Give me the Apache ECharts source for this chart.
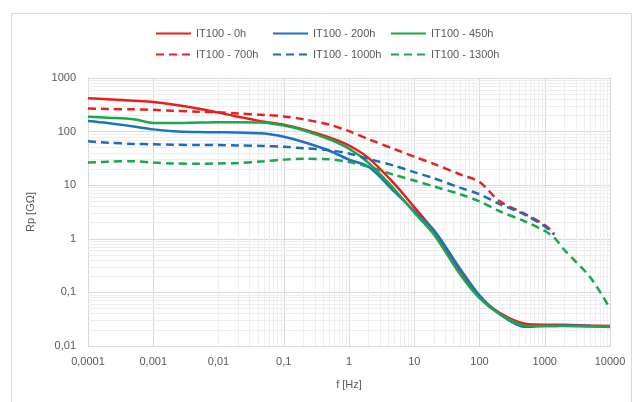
<!DOCTYPE html>
<html>
<head>
<meta charset="utf-8">
<script src="https://cdn.jsdelivr.net/npm/echarts@6/dist/echarts.min.js"></script>
<style>
  html, body { margin: 0; padding: 0; background: #ffffff; }
  #chart { width: 637px; height: 402px; }
</style>
</head>
<body>
<div id="chart"></div>
<script>
// Frequency sweep [Hz]
const freq = [0.0001, 0.0002, 0.0005, 0.001, 0.002, 0.005, 0.01, 0.02, 0.05, 0.1, 0.2, 0.5,
              1, 2, 5, 10, 20, 50, 100, 200, 500, 1000, 1400, 2000, 5000, 10000];

// Rp [GΩ] per ageing step
const rp0h    = [420, 400, 375, 355, 320, 268, 226, 190, 153, 135, 110, 78, 55, 32, 10.5, 3.9, 1.4, 0.26, 0.084, 0.042, 0.026, 0.025, 0.025, 0.025, 0.024, 0.0235];
const rp200h  = [158, 145, 125, 110, 102, 98, 97, 96, 92, 80, 64, 44, 30, 22, 7.5, 3.3, 1.45, 0.28, 0.088, 0.04, 0.0228, 0.0235, 0.0235, 0.024, 0.0235, 0.0225];
const rp450h  = [190, 182, 170, 145, 144, 148, 150, 150, 147, 130, 106, 72, 48, 26, 8.3, 3.1, 1.2, 0.22, 0.078, 0.04, 0.024, 0.0235, 0.0235, 0.0235, 0.023, 0.023];
const rp700h  = [270, 265, 260, 255, 245, 235, 230, 218, 205, 192, 170, 135, 102, 72, 47, 34, 25, 16, 11.5, 5.1, 2.9, 1.8, 1.25, null, null, null];
const rp1000h = [66, 62, 59, 58, 57, 56, 56, 55, 54, 52, 49, 45, 39, 31, 23, 17.5, 13.5, 9, 6.8, 4.5, 2.8, 1.7, 1.2, null, null, null];
const rp1300h = [26.5, 27.5, 28, 26.5, 25.5, 25, 25.5, 26, 28, 30, 31, 30.5, 27, 22, 15.5, 12.2, 9.5, 6.8, 5, 3.3, 2.1, 1.4, 1.05, 0.62, 0.19, 0.05];

const seriesNames = ['IT100 - 0h', 'IT100 - 200h', 'IT100 - 450h',
                     'IT100 - 700h', 'IT100 - 1000h', 'IT100 - 1300h'];
const seriesValues = [rp0h, rp200h, rp450h, rp700h, rp1000h, rp1300h];
const seriesColors = ['#ec1c1c', '#1f72c0', '#19a84b', '#e42222', '#1f6cb4', '#1aa650'];
const seriesDashed = [false, false, false, true, true, true];

// Tick labels (decimal comma)
const xTickLabels = ['0,0001', '0,001', '0,01', '0,1', '1', '10', '100', '1000', '10000'];
const yTickLabels = ['0,01', '0,1', '1', '10', '100', '1000'];

const textColor = '#595959';
const font = 'Liberation Sans';

function pairs(values) {
  return freq.map((f, i) => values[i] == null ? null : [f, values[i]]).filter(p => p);
}

// Minor log grid: 2..9 within each decade
const minorX = [];
for (let e = -4; e < 4; e++) for (let m = 2; m <= 9; m++) minorX.push(m * Math.pow(10, e));
const minorY = [];
for (let e = -2; e < 3; e++) for (let m = 2; m <= 9; m++) minorY.push(m * Math.pow(10, e));

const lineSeries = seriesNames.map((name, i) => ({
  name: name,
  type: 'line',
  data: pairs(seriesValues[i]),
  smooth: 0.3,
  symbol: 'none',
  z: 3,
  lineStyle: {
    color: seriesColors[i],
    width: 2.5,
    type: seriesDashed[i] ? [8, 5] : 'solid'
  },
  itemStyle: { color: seriesColors[i] }
}));

const gridSeries = {
  type: 'line',
  name: 'minor-grid',
  data: [],
  z: 1,
  silent: true,
  markLine: {
    silent: true,
    z: 1,
    symbol: ['none', 'none'],
    animation: false,
    label: { show: false },
    lineStyle: { color: '#eeeeee', width: 1, type: 'solid' },
    emphasis: { disabled: true },
    data: minorX.map(v => ({ xAxis: v })).concat(minorY.map(v => ({ yAxis: v })))
  }
};

const legendCols = [155, 272, 390];
const legendRows = [28, 49];
const legends = seriesNames.map((name, i) => ({
  data: [name],
  left: legendCols[i % 3],
  top: legendRows[Math.floor(i / 3)],
  itemWidth: 35,
  itemHeight: 14,
  itemGap: 0,
  padding: 0,
  selectedMode: false,
  itemStyle: { opacity: 0 },
  textStyle: { color: textColor, fontSize: 11, fontFamily: font, padding: [0, 0, 0, 0] }
}));

const chart = echarts.init(document.getElementById('chart'), null, { renderer: 'canvas' });
chart.setOption({
  animation: false,
  backgroundColor: '#ffffff',
  graphic: [{
    type: 'rect',
    left: 9, top: 11,
    shape: { width: 620, height: 400 },
    style: { fill: 'none', stroke: '#d9d9d9', lineWidth: 1 },
    silent: true
  }],
  legend: legends,
  grid: { left: 88, right: 27, top: 78, bottom: 56, containLabel: false },
  xAxis: {
    type: 'log',
    logBase: 10,
    min: 0.0001,
    max: 10000,
    splitNumber: 8,
    name: 'f [Hz]',
    nameLocation: 'middle',
    nameGap: 33,
    nameTextStyle: { color: textColor, fontSize: 11, fontFamily: font },
    axisLine: { show: true, lineStyle: { color: '#d9d9d9', width: 1 } },
    axisTick: { show: false },
    axisLabel: {
      color: textColor, fontSize: 11, fontFamily: font, margin: 10,
      formatter: v => xTickLabels[Math.round(Math.log10(v)) + 4]
    },
    splitLine: { show: true, lineStyle: { color: '#d9d9d9', width: 1 } }
  },
  yAxis: {
    type: 'log',
    logBase: 10,
    min: 0.01,
    max: 1000,
    splitNumber: 5,
    name: 'Rp [GΩ]',
    nameLocation: 'middle',
    nameRotate: 90,
    nameGap: 52,
    nameTextStyle: { color: textColor, fontSize: 11, fontFamily: font },
    axisLine: { show: true, lineStyle: { color: '#d9d9d9', width: 1 } },
    axisTick: { show: false },
    axisLabel: {
      color: textColor, fontSize: 11, fontFamily: font, margin: 12,
      formatter: v => yTickLabels[Math.round(Math.log10(v)) + 2]
    },
    splitLine: { show: true, lineStyle: { color: '#d9d9d9', width: 1 } }
  },
  series: [gridSeries].concat(lineSeries)
});
</script>
</body>
</html>
